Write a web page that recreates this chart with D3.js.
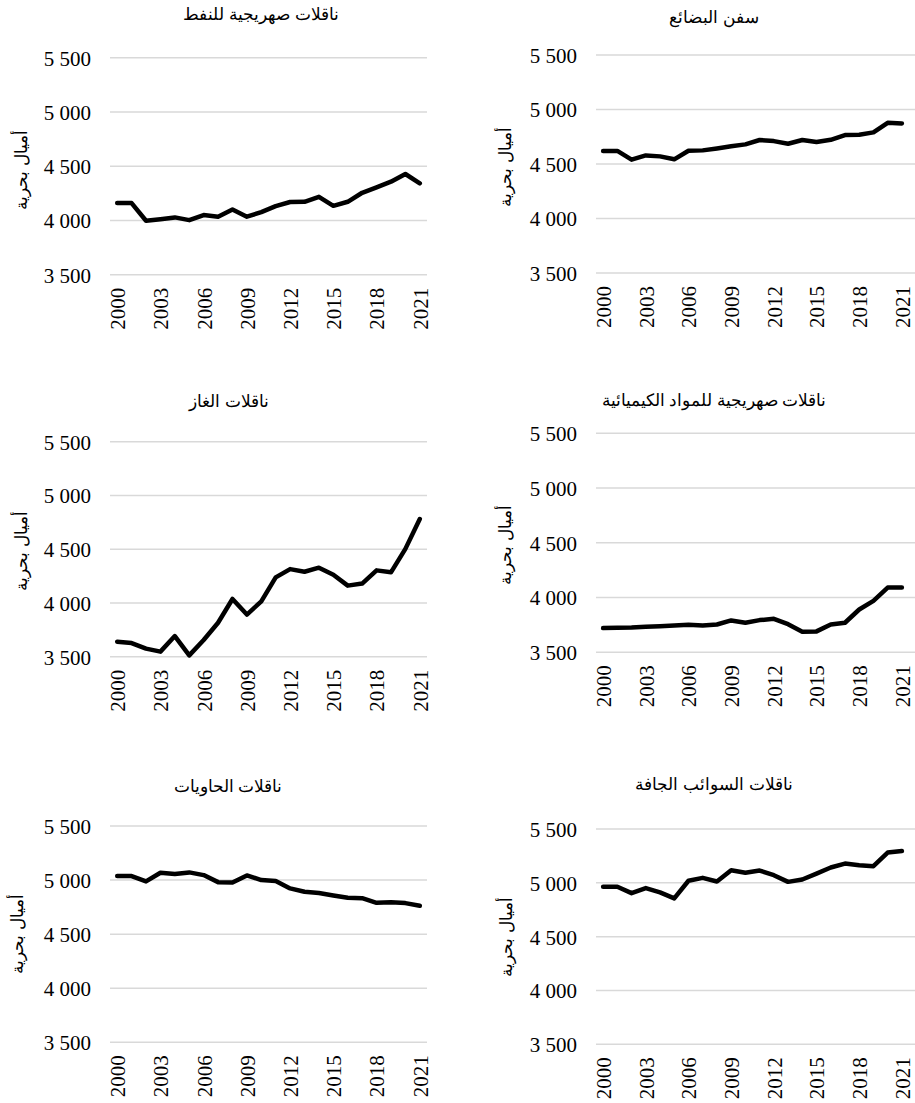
<!DOCTYPE html>
<html><head><meta charset="utf-8">
<script src="https://cdn.jsdelivr.net/npm/d3@7"></script>
<style>
html,body{margin:0;padding:0;background:#fff;}
svg{display:block;}
</style></head>
<body>
<svg id="chart" width="915" height="1103"></svg>
<script>
const years = d3.range(2000, 2022);
const yearTickLabels = ["2000","2003","2006","2009","2012","2015","2018","2021"];
const yTicks = [3500, 4000, 4500, 5000, 5500];
const yAxisTitle = "أميال بحرية";

const titles = [
  "ناقلات صهريجية للنفط",
  "سفن البضائع",
  "ناقلات الغاز",
  "ناقلات صهريجية للمواد الكيميائية",
  "ناقلات الحاويات",
  "ناقلات السوائب الجافة"
];

const oilTankers = [4160,4160,3997,4012,4028,4003,4050,4035,4100,4035,4077,4132,4170,4172,4218,4135,4172,4255,4305,4357,4428,4342];
const cargoShips = [4620,4620,4540,4579,4570,4543,4622,4625,4643,4662,4680,4720,4710,4686,4720,4701,4722,4765,4768,4790,4878,4872];
const gasCarriers = [3640,3627,3575,3547,3692,3512,3655,3816,4037,3892,4015,4238,4315,4290,4328,4263,4161,4180,4303,4285,4503,4781];
const chemicalTankers = [3721,3724,3727,3733,3739,3745,3751,3745,3754,3791,3770,3794,3806,3757,3688,3691,3754,3770,3891,3970,4091,4091];
const containerShips = [5037,5037,4988,5068,5056,5071,5046,4981,4978,5043,5000,4991,4923,4892,4880,4858,4836,4833,4790,4796,4787,4762];
const dryBulk = [4963,4963,4904,4951,4911,4855,5019,5046,5012,5117,5093,5114,5071,5009,5031,5086,5142,5179,5164,5154,5281,5296];

const seriesList = [oilTankers, cargoShips, gasCarriers, chemicalTankers, containerShips, dryBulk];

// layout per panel (positions only)
const layout = [
  {x0:110, x1:427, gx1:427, yTop:57.7, yBot:274.7, titleX:261, titleY:14, labX:91, axTitleX:21, axTitleY:170},
  {x0:596, x1:909, gx1:915, yTop:55,   yBot:273,   titleX:714, titleY:17, labX:577, axTitleX:505, axTitleY:167},
  {x0:110, x1:427, gx1:427, yTop:441.7,yBot:656.7, titleX:229, titleY:401, labX:91, axTitleX:21, axTitleY:551},
  {x0:596, x1:909, gx1:915, yTop:433.3,yBot:652.3, titleX:714, titleY:400, labX:577, axTitleX:505, axTitleY:545},
  {x0:110, x1:427, gx1:427, yTop:826,  yBot:1042.3,titleX:228, titleY:786, labX:91, axTitleX:17, axTitleY:934},
  {x0:596, x1:909, gx1:915, yTop:829,  yBot:1044.3,titleX:714, titleY:784, labX:577, axTitleX:506, axTitleY:937}
];

const numFont = '"Liberation Serif", "Times New Roman", serif';
const arFont = '"Liberation Sans", Arial, sans-serif';
const svg = d3.select("#chart");

seriesList.forEach((vals, i) => {
  const L = layout[i];
  const g = svg.append("g");
  const x = d3.scalePoint().domain(years).range([L.x0, L.x1]).padding(0.5);
  const y = d3.scaleLinear().domain([3500, 5500]).range([L.yBot, L.yTop]);

  // gridlines
  g.append("g").selectAll("line").data(yTicks).join("line")
    .attr("x1", L.x0).attr("x2", L.gx1)
    .attr("y1", d => y(d)).attr("y2", d => y(d))
    .attr("stroke", "#d9d9d9").attr("stroke-width", 1.5);

  // y labels
  const yAxis = d3.axisLeft(y).tickValues(yTicks).tickSize(0)
    .tickFormat(d => d3.format(",")(d).replace(",", " "));
  const ya = g.append("g").attr("transform", `translate(${L.labX},0)`).call(yAxis);
  ya.select(".domain").remove();
  ya.selectAll("text").attr("x", 0).attr("dy", "0.35em")
    .style("font-family", numFont).style("font-size", "21px").style("fill", "#000");

  // x labels
  const xAxis = d3.axisBottom(x).tickValues(years.filter(yr => yearTickLabels.includes(String(yr)))).tickSize(0);
  const xa = g.append("g").attr("transform", `translate(0,${L.yBot + 13})`).call(xAxis);
  xa.select(".domain").remove();
  xa.selectAll("text")
    .attr("transform", "rotate(-90)")
    .attr("x", 0).attr("y", 0).attr("dy", "0.35em")
    .attr("text-anchor", "end")
    .style("font-family", numFont).style("font-size", "21px").style("fill", "#000");

  // line
  const line = d3.line().x((d, j) => x(years[j])).y(d => y(d));
  g.append("path").datum(vals).attr("d", line)
    .attr("fill", "none").attr("stroke", "#000").attr("stroke-width", 4.5)
    .attr("stroke-linejoin", "round").attr("stroke-linecap", "round");

  // title
  g.append("text").attr("x", L.titleX).attr("y", L.titleY).attr("dy", "0.35em")
    .attr("text-anchor", "middle")
    .style("font-family", arFont).style("font-size", "16.5px").style("fill", "#000")
    .attr("direction", "rtl").text(titles[i]);

  // y-axis title
  g.append("text").attr("transform", `translate(${L.axTitleX},${L.axTitleY}) rotate(-90)`)
    .attr("dy", "0.35em").attr("text-anchor", "middle")
    .style("font-family", arFont).style("font-size", "17px").style("fill", "#000")
    .attr("direction", "rtl").text(yAxisTitle);
});
</script>
</body></html>
